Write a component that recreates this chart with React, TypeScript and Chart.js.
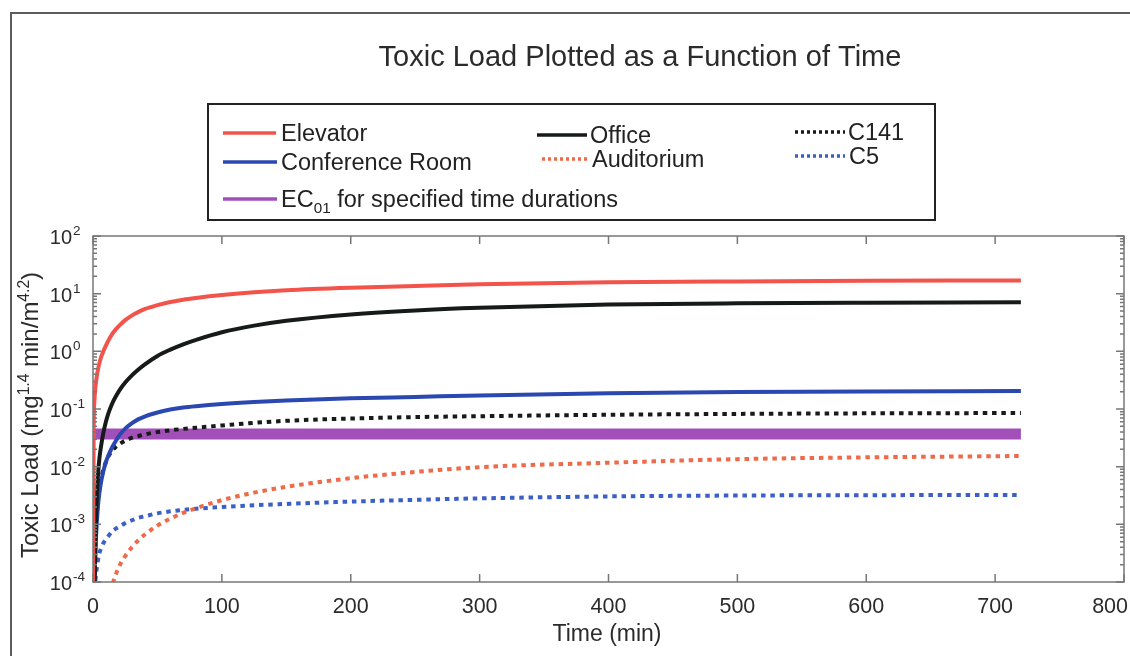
import React, { useEffect, useRef } from "react";
import { Chart, registerables } from "chart.js";

Chart.register(...registerables);

const W = 1130;
const H = 656;
const FONT = '"Liberation Sans", Arial, Helvetica, sans-serif';

// Sample times (min) shared by the room / aircraft curves
const times = [0, 0.5, 1, 2, 3, 4, 5, 6, 8, 10, 12, 15, 18, 21, 25, 30, 35, 40, 50, 60, 70, 80, 100, 125, 150, 200, 250, 300, 400, 500, 600, 720];

// Toxic load (mg^1.4 min / m^4.2) at each sample time
const elevator = [1e-5, 0.04, 0.126, 0.251, 0.372, 0.501, 0.631, 0.759, 1.0, 1.26, 1.55, 2.0, 2.45, 2.88, 3.47, 4.17, 4.79, 5.37, 6.31, 7.16, 7.85, 8.41, 9.44, 10.6, 11.5, 12.7, 13.6, 14.5, 15.7, 16.3, 16.7, 17.0];
const office = [1e-6, 1e-5, 5e-5, 6.3e-4, 3.2e-3, 7.9e-3, 0.0141, 0.0209, 0.038, 0.06, 0.085, 0.126, 0.17, 0.219, 0.288, 0.38, 0.479, 0.589, 0.832, 1.07, 1.32, 1.58, 2.14, 2.79, 3.39, 4.37, 5.13, 5.69, 6.46, 6.81, 6.97, 7.08];
const conference = [1e-6, 1e-5, 6.3e-5, 4.0e-4, 1.12e-3, 2.24e-3, 3.55e-3, 5.0e-3, 8.3e-3, 0.012, 0.0158, 0.0219, 0.0288, 0.0363, 0.0457, 0.0562, 0.0661, 0.0741, 0.0871, 0.0977, 0.106, 0.112, 0.122, 0.132, 0.14, 0.153, 0.162, 0.172, 0.188, 0.197, 0.202, 0.205];
const c141 = [1e-6, 1e-5, 1.26e-4, 6.3e-4, 1.58e-3, 2.82e-3, 4.17e-3, 5.6e-3, 8.9e-3, 0.012, 0.0151, 0.0191, 0.0224, 0.0251, 0.0282, 0.0316, 0.0339, 0.0363, 0.0398, 0.0427, 0.0452, 0.0473, 0.0519, 0.0575, 0.0624, 0.0684, 0.0724, 0.075, 0.0794, 0.0822, 0.0841, 0.0851];
const auditorium = [null, null, null, null, null, null, null, null, null, 3.2e-5, 5.0e-5, 8.9e-5, 1.41e-4, 2.0e-4, 2.82e-4, 3.98e-4, 5.25e-4, 6.6e-4, 9.5e-4, 1.26e-3, 1.58e-3, 1.9e-3, 2.63e-3, 3.55e-3, 4.47e-3, 6.3e-3, 8.1e-3, 9.8e-3, 0.0117, 0.0135, 0.0145, 0.0153];
const c5 = [null, null, 5.0e-5, 1.12e-4, 1.78e-4, 2.5e-4, 3.2e-4, 3.7e-4, 4.7e-4, 5.5e-4, 6.3e-4, 7.6e-4, 8.5e-4, 9.3e-4, 1.05e-3, 1.17e-3, 1.29e-3, 1.38e-3, 1.55e-3, 1.68e-3, 1.78e-3, 1.86e-3, 2.0e-3, 2.14e-3, 2.26e-3, 2.48e-3, 2.66e-3, 2.82e-3, 3.05e-3, 3.16e-3, 3.2e-3, 3.24e-3];

// EC01 threshold over the specified durations
const ec01Times = [0, 720];
const ec01 = [0.037, 0.037];

// Axis ticks
const xTicks = [0, 100, 200, 300, 400, 500, 600, 700, 800];
const yExponents = [-4, -3, -2, -1, 0, 1, 2];

const RED = "#f2544c";
const BLACK = "#161a19";
const BLUE = "#2a48b0";
const DOT_RED = "#ee6a48";
const DOT_BLUE = "#3a5fc6";
const PURPLE = "#a24fba";
const DOTS = [4.5, 4.8];

type Part = { t: string; m?: "sup" | "sub" };

function pts(xs: number[], ys: (number | null)[]) {
  return xs.map((x, i) => ({ x, y: ys[i] }));
}

function richText(ctx: CanvasRenderingContext2D, parts: Part[], x: number, y: number, size: number, color: string) {
  ctx.fillStyle = color;
  ctx.textBaseline = "alphabetic";
  ctx.textAlign = "left";
  let cx = x;
  for (const p of parts) {
    const s = p.m ? size * 0.65 : size;
    ctx.font = `${s}px ${FONT}`;
    const dy = p.m === "sup" ? -size * 0.38 : p.m === "sub" ? size * 0.25 : 0;
    ctx.fillText(p.t, cx, y + dy);
    cx += ctx.measureText(p.t).width;
  }
}

const legendItems = [
  { label: [{ t: "Elevator" }] as Part[], color: RED, dash: [] as number[], x0: 223, x1: 276, y: 133, tx: 281 },
  { label: [{ t: "Conference Room" }] as Part[], color: BLUE, dash: [], x0: 223, x1: 277, y: 162, tx: 281 },
  { label: [{ t: "EC" }, { t: "01", m: "sub" }, { t: " for specified time durations" }] as Part[], color: PURPLE, dash: [], x0: 223, x1: 277, y: 199, tx: 281 },
  { label: [{ t: "Office" }] as Part[], color: BLACK, dash: [], x0: 537, x1: 587, y: 135, tx: 590 },
  { label: [{ t: "Auditorium" }] as Part[], color: DOT_RED, dash: [3, 3], x0: 542, x1: 588, y: 159, tx: 592 },
  { label: [{ t: "C141" }] as Part[], color: BLACK, dash: [3, 3], x0: 795, x1: 845, y: 132, tx: 848 },
  { label: [{ t: "C5" }] as Part[], color: DOT_BLUE, dash: [3, 3], x0: 795, x1: 845, y: 156, tx: 849 },
];

const decorations = {
  id: "decorations",
  beforeDraw(chart: any) {
    const ctx: CanvasRenderingContext2D = chart.ctx;
    ctx.save();
    ctx.fillStyle = "#ffffff";
    ctx.fillRect(0, 0, W, H);

    // outer figure frame
    ctx.strokeStyle = "#5c5c5c";
    ctx.lineWidth = 2;
    ctx.beginPath();
    ctx.moveTo(11, H);
    ctx.lineTo(11, 13);
    ctx.lineTo(W, 13);
    ctx.stroke();

    // title
    ctx.fillStyle = "#2b2b2b";
    ctx.font = `29px ${FONT}`;
    ctx.textAlign = "center";
    ctx.textBaseline = "alphabetic";
    ctx.fillText("Toxic Load Plotted as a Function of Time", 640, 66);

    // legend
    ctx.strokeStyle = "#222";
    ctx.lineWidth = 2;
    ctx.strokeRect(208, 104, 727, 116);
    for (const it of legendItems) {
      ctx.strokeStyle = it.color;
      ctx.lineWidth = 3.5;
      ctx.lineCap = "butt";
      ctx.setLineDash(it.dash);
      ctx.beginPath();
      ctx.moveTo(it.x0, it.y);
      ctx.lineTo(it.x1, it.y);
      ctx.stroke();
      ctx.setLineDash([]);
      richText(ctx, it.label, it.tx, it.y + 8, 23.5, "#222");
    }
    ctx.restore();
  },
  afterDatasetsDraw(chart: any) {
    const ctx: CanvasRenderingContext2D = chart.ctx;
    const { left, right, top, bottom } = chart.chartArea;
    const xs = chart.scales.x;
    const ys = chart.scales.y;
    ctx.save();
    ctx.strokeStyle = "#777";
    ctx.lineWidth = 1.5;
    ctx.strokeRect(left, top, right - left, bottom - top);

    // x ticks (inward, top and bottom)
    ctx.beginPath();
    for (const v of xTicks) {
      const px = xs.getPixelForValue(v);
      ctx.moveTo(px, bottom);
      ctx.lineTo(px, bottom - 8);
      ctx.moveTo(px, top);
      ctx.lineTo(px, top + 8);
    }
    // y ticks, decades and minor
    for (const e of yExponents) {
      for (let k = 1; k <= 9; k++) {
        if (e === 2 && k > 1) break;
        const py = ys.getPixelForValue(k * Math.pow(10, e));
        const len = k === 1 ? 8 : 4;
        ctx.moveTo(left, py);
        ctx.lineTo(left + len, py);
        ctx.moveTo(right, py);
        ctx.lineTo(right - len, py);
      }
    }
    ctx.stroke();

    // x tick labels, kept inside the canvas
    ctx.fillStyle = "#2b2b2b";
    ctx.font = `21.5px ${FONT}`;
    ctx.textAlign = "center";
    ctx.textBaseline = "alphabetic";
    for (const v of xTicks) {
      const s = String(v);
      const w = ctx.measureText(s).width;
      let cx = xs.getPixelForValue(v);
      if (cx + w / 2 > W - 2) cx = W - 2 - w / 2;
      ctx.fillText(s, cx, 613);
    }
    ctx.font = `23px ${FONT}`;
    ctx.fillText("Time (min)", 607, 641);

    // y tick labels as powers of ten
    for (const e of yExponents) {
      const py = ys.getPixelForValue(Math.pow(10, e));
      ctx.font = `20px ${FONT}`;
      ctx.textAlign = "right";
      ctx.fillText("10", 72, py + 8);
      ctx.font = `13.5px ${FONT}`;
      ctx.textAlign = "left";
      ctx.fillText(String(e), 73, py - 1);
    }

    // y axis title, rotated
    ctx.translate(38, 0);
    ctx.rotate(-Math.PI / 2);
    const parts: Part[] = [
      { t: "Toxic Load (mg" },
      { t: "1.4", m: "sup" },
      { t: " min/m" },
      { t: "4.2", m: "sup" },
      { t: ")" },
    ];
    let total = 0;
    for (const p of parts) {
      ctx.font = `${p.m ? 24 * 0.65 : 24}px ${FONT}`;
      total += ctx.measureText(p.t).width;
    }
    richText(ctx, parts, -415 - total / 2, 0, 24, "#2b2b2b");
    ctx.restore();
  },
};

export default function App() {
  const ref = useRef<HTMLCanvasElement | null>(null);

  useEffect(() => {
    if (!ref.current) return;
    const solid = (label: string, data: (number | null)[], color: string) => ({
      label,
      data: pts(times, data),
      borderColor: color,
      backgroundColor: color,
      borderWidth: 4,
      pointRadius: 0,
      fill: false,
      cubicInterpolationMode: "monotone" as const,
      spanGaps: false,
    });
    const dotted = (label: string, data: (number | null)[], color: string) => ({
      ...solid(label, data, color),
      borderDash: DOTS,
      borderCapStyle: "butt" as const,
    });
    const chart = new Chart(ref.current, {
      type: "line",
      data: {
        datasets: [
          solid("Elevator", elevator, RED),
          solid("Office", office, BLACK),
          solid("Conference Room", conference, BLUE),
          dotted("C141", c141, BLACK),
          dotted("Auditorium", auditorium, DOT_RED),
          dotted("C5", c5, DOT_BLUE),
          {
            label: "EC01 for specified time durations",
            data: pts(ec01Times, ec01),
            borderColor: PURPLE,
            backgroundColor: PURPLE,
            borderWidth: 11,
            pointRadius: 0,
            fill: false,
          },
        ],
      },
      options: {
        responsive: false,
        animation: false,
        devicePixelRatio: 1,
        layout: { padding: { left: 93, top: 236, right: 6, bottom: 74 } },
        plugins: { legend: { display: false }, title: { display: false }, tooltip: { enabled: false } },
        scales: {
          x: { type: "linear", min: 0, max: 800, display: false },
          y: { type: "logarithmic", min: 1e-4, max: 100, display: false },
        },
      },
      plugins: [decorations],
    });
    return () => chart.destroy();
  }, []);

  return (
    <div style={{ position: "fixed", left: 0, top: 0, width: W, height: H, background: "#fff" }}>
      <canvas ref={ref} width={W} height={H} style={{ display: "block" }} />
    </div>
  );
}
